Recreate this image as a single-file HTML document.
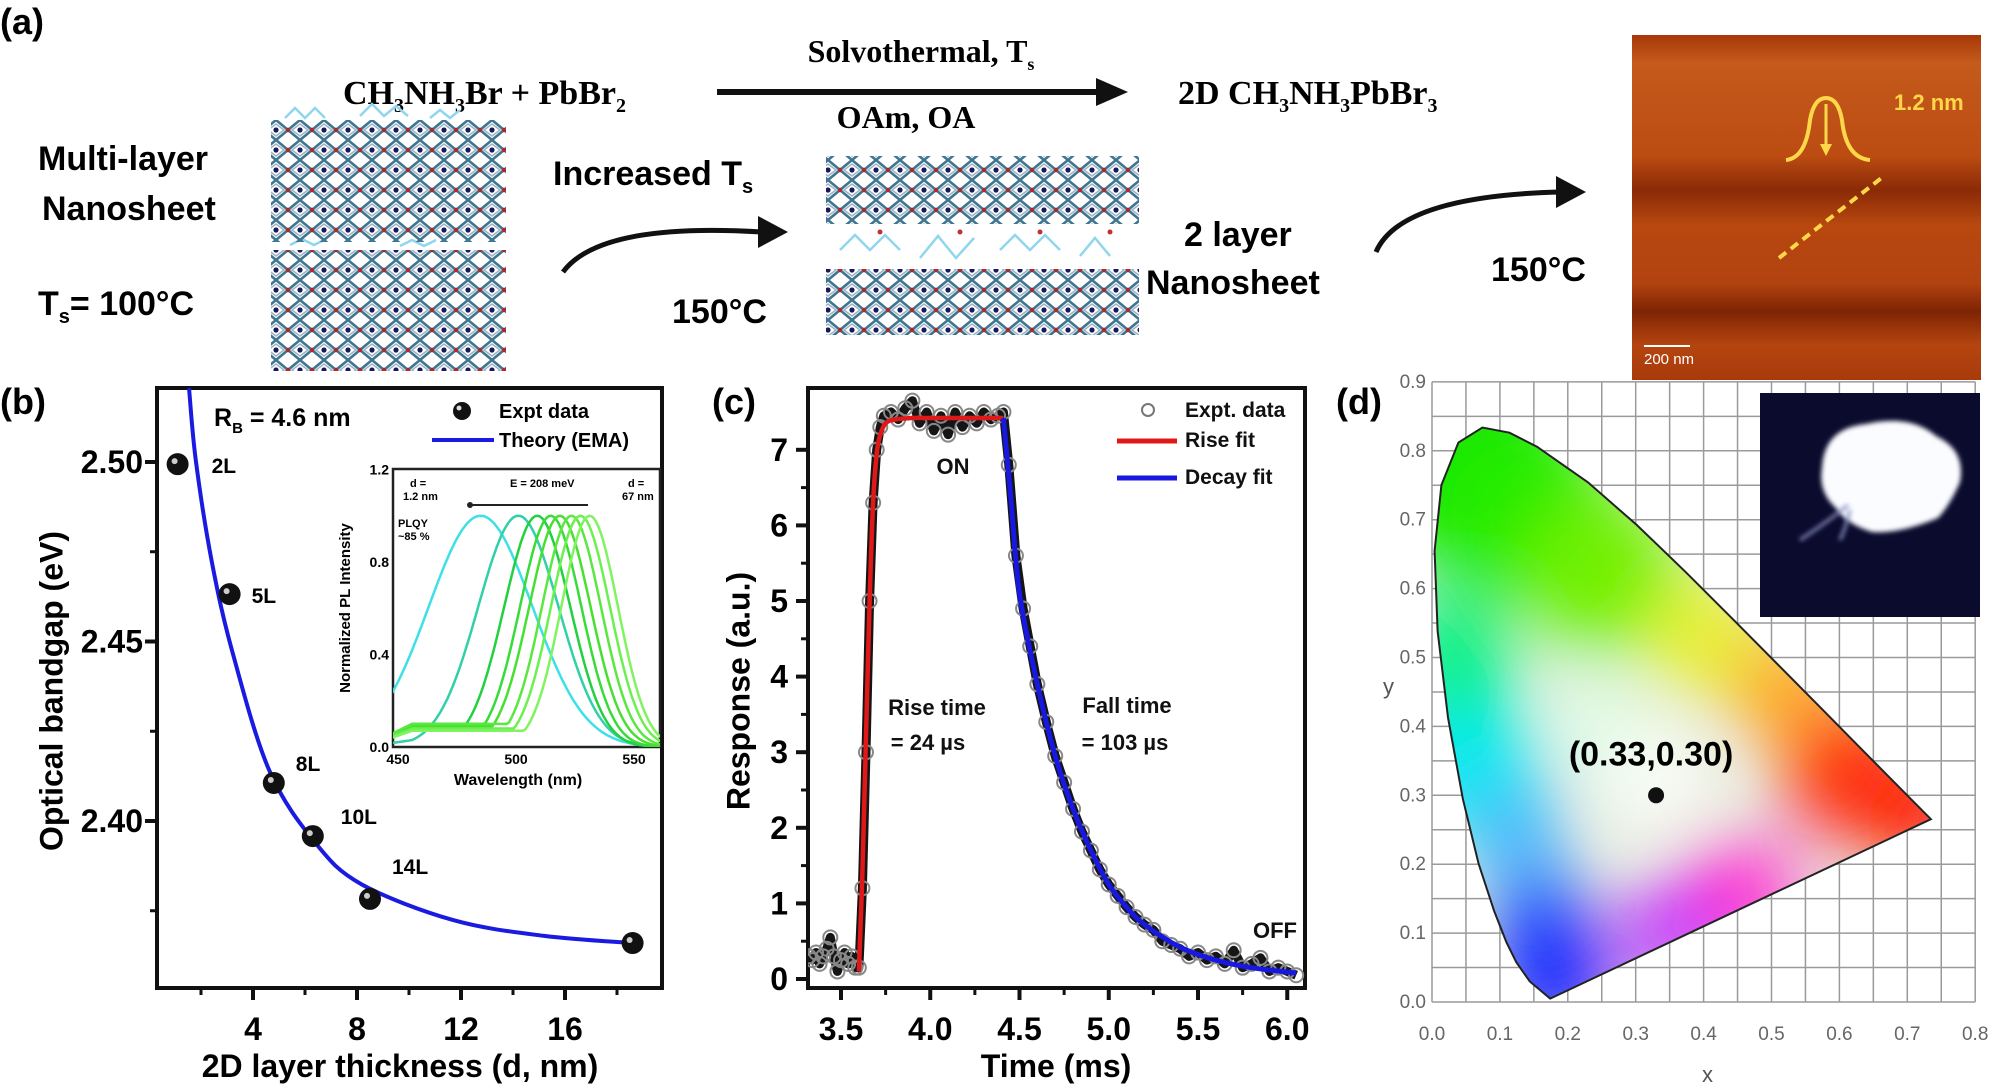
<!DOCTYPE html>
<html><head><meta charset="utf-8"><style>
html,body{margin:0;padding:0;background:#fff;}
svg{display:block;font-family:"Liberation Sans",Arial,sans-serif;}
.b{font-weight:bold;}
</style></head><body>
<svg id="fig" width="1996" height="1092" viewBox="0 0 1996 1092" xmlns="http://www.w3.org/2000/svg">
<defs>
<pattern id="lat" width="24" height="20" patternUnits="userSpaceOnUse">
<path d="M12,0 L24,10 L12,20 L0,10 Z" fill="none" stroke="#3f7590" stroke-width="2.6"/>
<path d="M12,4 L20,10 L12,16 L4,10 Z" fill="none" stroke="#9bb3c4" stroke-width="1.5"/>
<circle cx="12" cy="10" r="2.6" fill="#1a1a5a"/>
<circle cx="0" cy="10" r="2.2" fill="#b02828"/><circle cx="24" cy="10" r="2.2" fill="#b02828"/>
</pattern>
<linearGradient id="afm" x1="0" y1="0" x2="0" y2="1">
<stop offset="0" stop-color="#a83808"/><stop offset="0.08" stop-color="#c45a1c"/>
<stop offset="0.35" stop-color="#bc4c12"/><stop offset="0.45" stop-color="#8a2a06"/>
<stop offset="0.55" stop-color="#b8480f"/><stop offset="0.72" stop-color="#b24210"/>
<stop offset="0.8" stop-color="#7e2404"/><stop offset="0.9" stop-color="#b5450f"/><stop offset="1" stop-color="#a83a0c"/>
</linearGradient>
<clipPath id="clipB"><rect x="157" y="388" width="505" height="600"/></clipPath>
<clipPath id="clipI"><rect x="393" y="469" width="267" height="278"/></clipPath>
<clipPath id="clipC"><rect x="808" y="388" width="497" height="600"/></clipPath>
<clipPath id="clipCIE"><polygon id="ciePoly"/></clipPath>
<filter id="blur" x="-50%" y="-50%" width="200%" height="200%"><feGaussianBlur stdDeviation="34"/></filter>
<filter id="blur2"><feGaussianBlur stdDeviation="2.5"/></filter>
</defs>

<g>
<text x="0" y="34" class="b" font-size="36">(a)</text>
<text x="343" y="104" font-family="Liberation Serif,serif" font-weight="bold" font-size="34">CH<tspan font-size="20" dy="8">3</tspan><tspan dy="-8">NH</tspan><tspan font-size="20" dy="8">3</tspan><tspan dy="-8">Br + PbBr</tspan><tspan font-size="20" dy="8">2</tspan></text>
<text x="921" y="62" text-anchor="middle" font-family="Liberation Serif,serif" font-weight="bold" font-size="32">Solvothermal, T<tspan font-size="18" dy="8">s</tspan></text>
<line x1="717" y1="92" x2="1100" y2="92" stroke="#111" stroke-width="6"/>
<polygon points="1096,78 1128,92 1096,106" fill="#111"/>
<text x="906" y="128" text-anchor="middle" font-family="Liberation Serif,serif" font-weight="bold" font-size="32">OAm, OA</text>
<text x="1178" y="104" font-family="Liberation Serif,serif" font-weight="bold" font-size="34">2D CH<tspan font-size="20" dy="8">3</tspan><tspan dy="-8">NH</tspan><tspan font-size="20" dy="8">3</tspan><tspan dy="-8">PbBr</tspan><tspan font-size="20" dy="8">3</tspan></text>
<text x="38" y="170" class="b" font-size="34">Multi-layer</text>
<text x="42" y="220" class="b" font-size="34">Nanosheet</text>
<text x="38" y="315" class="b" font-size="34">T<tspan font-size="20" dy="8">s</tspan><tspan dy="-8">= 100°C</tspan></text>
<g>
<path d="M285,118 l10,-10 l10,10 l10,-10 l10,10 M360,116 l12,-12 l12,12 l12,-10 l12,10 M430,118 l10,-8 l10,8 l10,-8 M290,245 l12,-6 l12,6 l12,-6 M400,246 l12,-6 l12,6 l12,-6" stroke="#8fd6ee" stroke-width="2.5" fill="none"/>
<rect x="271" y="120" width="235" height="122" fill="url(#lat)"/>
<rect x="271" y="250" width="235" height="121" fill="url(#lat)"/>
</g>
<text x="553" y="185" class="b" font-size="34">Increased T<tspan font-size="20" dy="8">s</tspan></text>
<path d="M563,272 Q600,222 762,232" stroke="#111" stroke-width="5" fill="none"/>
<polygon points="758,216 788,232 758,248" fill="#111"/>
<text x="672" y="323" class="b" font-size="34">150°C</text>
<g>
<rect x="826" y="156" width="313" height="68" fill="url(#lat)"/>
<rect x="826" y="269" width="313" height="66" fill="url(#lat)"/>
<path d="M840,250 l15,-15 l15,15 l15,-15 l15,15 M920,258 l18,-22 l18,22 l18,-20 M1000,250 l15,-15 l15,15 l15,-15 l15,15 M1080,256 l15,-18 l15,18" stroke="#8fd6ee" stroke-width="2.5" fill="none"/>
<circle cx="880" cy="232" r="2.5" fill="#c03030"/><circle cx="960" cy="232" r="2.5" fill="#c03030"/><circle cx="1040" cy="232" r="2.5" fill="#c03030"/><circle cx="1110" cy="232" r="2.5" fill="#c03030"/>
</g>
<text x="1184" y="246" class="b" font-size="34">2 layer</text>
<text x="1146" y="294" class="b" font-size="34">Nanosheet</text>
<path d="M1376,252 Q1400,196 1560,192" stroke="#111" stroke-width="5" fill="none"/>
<polygon points="1556,176 1586,192 1556,208" fill="#111"/>
<text x="1491" y="281" class="b" font-size="34">150°C</text>
<g>
<rect x="1632" y="35" width="349" height="345" fill="url(#afm)"/>
<path d="M1786,160 Q1806,158 1810,120 Q1814,98 1826,98 Q1838,98 1842,120 Q1846,158 1870,160" stroke="#ffd84a" stroke-width="4" fill="none"/>
<line x1="1826" y1="104" x2="1826" y2="150" stroke="#ffd84a" stroke-width="3"/>
<polygon points="1820,144 1832,144 1826,156" fill="#ffd84a"/>
<text x="1894" y="110" class="b" font-size="22" fill="#ffd84a">1.2 nm</text>
<line x1="1779" y1="258" x2="1884" y2="176" stroke="#ffd84a" stroke-width="4" stroke-dasharray="9,6"/>
<line x1="1644" y1="346" x2="1690" y2="346" stroke="#fff" stroke-width="2"/>
<text x="1644" y="364" font-size="15" fill="#fff">200 nm</text>
</g>
</g>

<g id="pb">
<text x="0" y="414" class="b" font-size="36">(b)</text>
<text x="54" y="691" class="b" font-size="32" text-anchor="middle" transform="rotate(-90 54 691)" dominant-baseline="middle">Optical bandgap (eV)</text>
<text x="400" y="1077" class="b" font-size="32" text-anchor="middle">2D layer thickness (d, nm)</text>
<text x="214" y="426" class="b" font-size="25">R<tspan font-size="15" dy="7">B</tspan><tspan dy="-7"> = 4.6 nm</tspan></text>
<circle cx="462" cy="411" r="9" fill="#111"/>
<circle cx="459" cy="408" r="2.5" fill="#ddd"/>
<text x="499" y="418" class="b" font-size="20">Expt data</text>
<line x1="432" y1="440" x2="494" y2="440" stroke="#1a1ae0" stroke-width="4"/>
<text x="499" y="447" class="b" font-size="20">Theory (EMA)</text>
</g>

<g id="pc">
<text x="712" y="414" class="b" font-size="36">(c)</text>
<text x="741" y="691" class="b" font-size="32" text-anchor="middle" transform="rotate(-90 741 691)" dominant-baseline="middle">Response (a.u.)</text>
<text x="1056" y="1077" class="b" font-size="32" text-anchor="middle">Time (ms)</text>
</g>

<g id="pd">
<text x="1336" y="414" class="b" font-size="36">(d)</text>
<text x="1383" y="694" font-size="22" fill="#555">y</text>
<text x="1702" y="1082" font-size="22" fill="#555">x</text>
</g>
</svg>
<script>
// ---------- Panel B data ----------
const bXTicks = [4, 8, 12, 16];
const bXMinor = [2, 6, 10, 14, 18];
const bYTicks = [2.50, 2.45, 2.40];
const bYTickLabels = ["2.50", "2.45", "2.40"];
const bYMinor = [2.475, 2.425, 2.375];
const bPointD = [1.1, 3.1, 4.8, 6.3, 8.5, 18.6];
const bPointE = [2.4994, 2.4632, 2.4106, 2.3958, 2.3783, 2.366];
const bPointLabels = ["2L", "5L", "8L", "10L", "14L", ""];
const bTheoryD = [1.54, 1.81, 2.42, 3.22, 4.63, 6.40, 8.17, 11.7, 15.2, 18.6];
const bTheoryE = [2.5206, 2.4998, 2.4721, 2.4468, 2.4140, 2.3939, 2.3824, 2.3724, 2.3680, 2.366];
// inset
const inXTicks = [450, 500, 550];
const inYTicks = [0.0, 0.4, 0.8, 1.2];
const inPeaks = [485, 501, 509, 514.7, 518.6, 523.5, 527.3, 531.2];
const inWidths = [22, 17, 14, 13, 13, 12.5, 12.5, 12];
const inShoulder = [0, 0.03, 0.08, 0.1, 0.09, 0.1, 0.08, 0.07];
// ---------- Panel C data ----------
const cXTicks = [3.5, 4.0, 4.5, 5.0, 5.5, 6.0];
const cYTicks = [0, 1, 2, 3, 4, 5, 6, 7];
const cExpT = [3.32,3.34,3.36,3.38,3.40,3.42,3.44,3.46,3.48,3.50,3.52,3.54,3.56,3.58,3.60,3.62,3.64,3.66,3.68,3.70,3.72,3.74,3.78,3.82,3.86,3.90,3.94,3.98,4.02,4.06,4.10,4.14,4.18,4.22,4.26,4.30,4.34,4.38,4.41,4.44,4.48,4.52,4.56,4.60,4.65,4.70,4.75,4.80,4.85,4.90,4.95,5.00,5.05,5.10,5.15,5.20,5.25,5.30,5.35,5.40,5.45,5.50,5.55,5.60,5.65,5.70,5.75,5.80,5.85,5.90,5.95,6.00,6.05];
const cExpV = [0.3,0.25,0.35,0.2,0.3,0.4,0.55,0.3,0.1,0.25,0.35,0.2,0.3,0.15,0.15,1.2,3.0,5.0,6.3,7.0,7.3,7.45,7.5,7.4,7.55,7.65,7.35,7.5,7.25,7.45,7.2,7.5,7.3,7.45,7.35,7.5,7.4,7.45,7.5,6.8,5.6,4.9,4.4,3.9,3.4,2.95,2.6,2.25,1.95,1.7,1.45,1.25,1.1,0.95,0.82,0.72,0.65,0.5,0.45,0.4,0.3,0.35,0.25,0.3,0.2,0.38,0.15,0.2,0.28,0.1,0.15,0.1,0.05];
const cRiseT = [3.60,3.62,3.64,3.66,3.68,3.70,3.72,3.75,3.80,3.90,4.00,4.20,4.41];
const cRiseV = [0.1,1.4,3.2,5.0,6.3,6.95,7.2,7.35,7.4,7.42,7.42,7.42,7.42];
const cDecayT = [4.41,4.45,4.5,4.6,4.7,4.8,4.9,5.0,5.1,5.2,5.4,5.6,5.8,6.05];
const cDecayV = [7.42,6.4,5.1,3.9,2.95,2.25,1.7,1.25,0.95,0.72,0.42,0.25,0.15,0.08];
// ---------- Panel D data ----------
const dTicks = [0.0,0.1,0.2,0.3,0.4,0.5,0.6,0.7,0.8];
const dYTicks = [0.0,0.1,0.2,0.3,0.4,0.5,0.6,0.7,0.8,0.9];
const locusX = [0.1741,0.1440,0.1241,0.1096,0.0913,0.0687,0.0454,0.0235,0.0082,0.0039,0.0139,0.0389,0.0743,0.1142,0.1547,0.2296,0.3016,0.3731,0.4441,0.5125,0.5752,0.6270,0.6915,0.7347];
const locusY = [0.0050,0.0297,0.0578,0.0868,0.1327,0.2007,0.2950,0.4127,0.5384,0.6548,0.7502,0.8120,0.8338,0.8262,0.8059,0.7543,0.6923,0.6245,0.5547,0.4866,0.4242,0.3725,0.3083,0.2653];
const whitePoint = [0.33, 0.30];

const NS = "http://www.w3.org/2000/svg";
function mk(tag, attrs, parent) {
  const e = document.createElementNS(NS, tag);
  for (const k in attrs) e.setAttribute(k, attrs[k]);
  parent.appendChild(e);
  return e;
}
function smooth(P) {
  let d = 'M' + P[0][0].toFixed(1) + ',' + P[0][1].toFixed(1);
  for (let i = 0; i < P.length - 1; i++) {
    const p0 = P[Math.max(0, i - 1)], p1 = P[i], p2 = P[i + 1], p3 = P[Math.min(P.length - 1, i + 2)];
    const c1 = [p1[0] + (p2[0] - p0[0]) / 6, p1[1] + (p2[1] - p0[1]) / 6];
    const c2 = [p2[0] - (p3[0] - p1[0]) / 6, p2[1] - (p3[1] - p1[1]) / 6];
    d += ' C' + c1[0].toFixed(1) + ',' + c1[1].toFixed(1) + ' ' + c2[0].toFixed(1) + ',' + c2[1].toFixed(1) + ' ' + p2[0].toFixed(1) + ',' + p2[1].toFixed(1);
  }
  return d;
}
const pb = document.getElementById('pb'), pc = document.getElementById('pc'), pd = document.getElementById('pd');

// ===== Panel B =====
const bx = d => 149 + d * 26;
const by = E => 462 + (2.50 - E) * 3590;
let el;
el = mk('rect', {x:157, y:388, width:505, height:600, fill:'none', stroke:'#111', 'stroke-width':4}, pb);


bXTicks.forEach(t => {
  mk('line', {x1:bx(t), x2:bx(t), y1:988, y2:1000, stroke:'#111', 'stroke-width':4}, pb);
  el = mk('text', {x:bx(t), y:1040, 'text-anchor':'middle', 'font-size':32, 'font-weight':'bold'}, pb);
  el.textContent = t;
  
  
});
bXMinor.forEach(t => mk('line', {x1:bx(t), x2:bx(t), y1:988, y2:995, stroke:'#111', 'stroke-width':3}, pb));
bYTicks.forEach((v, i) => {
  mk('line', {x1:145, x2:157, y1:by(v), y2:by(v), stroke:'#111', 'stroke-width':4}, pb);
  el = mk('text', {x:143, y:by(v) + 11, 'text-anchor':'end', 'font-size':32, 'font-weight':'bold'}, pb);
  el.textContent = bYTickLabels[i];
  
  
});
bYMinor.forEach(v => mk('line', {x1:150, x2:157, y1:by(v), y2:by(v), stroke:'#111', 'stroke-width':3}, pb));
// inset
const ix = l => 398 + (l - 450) * 2.36;
const iy = v => 747 - v * 231.25;
el = mk('rect', {x:393, y:469, width:267, height:278, fill:'#fff', stroke:'#222', 'stroke-width':2.5}, pb);


inYTicks.forEach(v => {
  el = mk('text', {x:389, y:iy(v) + 5, 'text-anchor':'end', 'font-size':14, 'font-weight':'bold'}, pb);
  el.textContent = v.toFixed(1);
  
  
});
inXTicks.forEach(v => {
  el = mk('text', {x:ix(v), y:764, 'text-anchor':'middle', 'font-size':14, 'font-weight':'bold'}, pb);
  el.textContent = v;
  
  
});
el = mk('text', {x:518, y:785, 'text-anchor':'middle', 'font-size':16, 'font-weight':'bold'}, pb);
el.textContent = 'Wavelength (nm)';


el = mk('text', {x:350, y:608, 'text-anchor':'middle', 'font-size':15, 'font-weight':'bold', transform:'rotate(-90 350 608)'}, pb);
el.textContent = 'Normalized PL Intensity';


const inColors = ['#3ee0e8','#30d0a8','#22d040','#38dc38','#48e030','#5ae840','#6cf050','#80f460'];
const ig = mk('g', {'clip-path':'url(#clipI)'}, pb);
inPeaks.forEach((p, k) => {
  let d = '';
  for (let l = 446; l <= 562; l += 1) {
    let v = Math.exp(-0.5 * Math.pow((l - p) / inWidths[k], 2));
    if (l < p) v = Math.max(v, inShoulder[k] * Math.min(1, (l - 446) / 20 + 0.5));
    d += (l === 446 ? 'M' : 'L') + ix(l).toFixed(1) + ',' + iy(v).toFixed(1);
  }
  el = mk('path', {d:d, fill:'none', stroke:inColors[k], 'stroke-width':2.5}, ig);
  
  
});
[['d =',410,487],['1.2 nm',403,500],['E = 208 meV',510,487],['d =',628,487],['67 nm',622,500],['PLQY',398,527],['~85 %',398,540]].forEach(a => {
  el = mk('text', {x:a[1], y:a[2], 'font-size':11, 'font-weight':'bold'}, pb);
  el.textContent = a[0];
  
  
});
mk('line', {x1:470, x2:588, y1:505, y2:505, stroke:'#222', 'stroke-width':2}, pb);
mk('circle', {cx:470, cy:505, r:3, fill:'#222'}, pb);
// theory curve
const bg = mk('g', {'clip-path':'url(#clipB)'}, pb);
el = mk('path', {d:smooth(bTheoryD.map((d, i) => [bx(d), by(bTheoryE[i])])), fill:'none', stroke:'#1a1ae0', 'stroke-width':4, 'stroke-linejoin':'round'}, bg);


bPointD.forEach((d, i) => {
  el = mk('circle', {cx:bx(d), cy:by(bPointE[i]), r:11, fill:'#111'}, pb);
  
  
  mk('circle', {cx:bx(d) - 3, cy:by(bPointE[i]) - 3, r:3, fill:'#ccc'}, pb);
  if (bPointLabels[i]) {
    const off = [[34,9],[22,9],[22,-12],[28,-12],[22,-25]][i];
    el = mk('text', {x:bx(d) + off[0], y:by(bPointE[i]) + off[1], 'font-size':21, 'font-weight':'bold'}, pb);
    el.textContent = bPointLabels[i];
    
    
  }
});

// ===== Panel C =====
const cx = t => 841 + (t - 3.5) * 178.5;
const cy = v => 979 - v * 75.6;
el = mk('rect', {x:808, y:388, width:497, height:600, fill:'none', stroke:'#111', 'stroke-width':4}, pc);


cXTicks.forEach(t => {
  mk('line', {x1:cx(t), x2:cx(t), y1:988, y2:1000, stroke:'#111', 'stroke-width':4}, pc);
  if (t < 6) mk('line', {x1:cx(t + 0.25), x2:cx(t + 0.25), y1:988, y2:995, stroke:'#111', 'stroke-width':3}, pc);
  el = mk('text', {x:cx(t), y:1040, 'text-anchor':'middle', 'font-size':32, 'font-weight':'bold'}, pc);
  el.textContent = t.toFixed(1);
  
  
});
cYTicks.forEach(v => {
  mk('line', {x1:796, x2:808, y1:cy(v), y2:cy(v), stroke:'#111', 'stroke-width':4}, pc);
  if (v < 7) mk('line', {x1:801, x2:808, y1:cy(v + 0.5), y2:cy(v + 0.5), stroke:'#111', 'stroke-width':3}, pc);
  el = mk('text', {x:788, y:cy(v) + 11, 'text-anchor':'end', 'font-size':32, 'font-weight':'bold'}, pc);
  el.textContent = v;
  
  
});
const cg = mk('g', {'clip-path':'url(#clipC)'}, pc);
let ed = cExpT.map((t, i) => (i ? 'L' : 'M') + cx(t).toFixed(1) + ',' + cy(cExpV[i]).toFixed(1)).join(' ');
el = mk('path', {d:ed, fill:'none', stroke:'#151515', 'stroke-width':9, 'stroke-linejoin':'round'}, cg);


cExpT.forEach((t, i) => {
  el = mk('circle', {cx:cx(t), cy:cy(cExpV[i]), r:7, fill:'none', stroke:'#888', 'stroke-width':2}, cg);
  
  
});
el = mk('path', {d:smooth(cRiseT.map((t, i) => [cx(t), cy(cRiseV[i])])), fill:'none', stroke:'#e01818', 'stroke-width':4.5}, cg);


el = mk('path', {d:smooth(cDecayT.map((t, i) => [cx(t), cy(cDecayV[i])])), fill:'none', stroke:'#1818e0', 'stroke-width':5}, cg);


mk('circle', {cx:1148, cy:410, r:6, fill:'none', stroke:'#777', 'stroke-width':2}, pc);
[['Expt. data',1185,417],['Rise fit',1185,447],['Decay fit',1185,484],['ON',953,474],['Rise time',937,715],['= 24 µs',928,750],['Fall time',1127,713],['= 103 µs',1125,750],['OFF',1275,938]].forEach((a, i) => {
  el = mk('text', {x:a[1], y:a[2], 'font-size':i < 3 ? 21 : 22, 'font-weight':'bold', 'text-anchor':i < 3 ? 'start' : 'middle', fill:'#111'}, pc);
  el.textContent = a[0];
  
  
});
mk('line', {x1:1117, x2:1177, y1:441, y2:441, stroke:'#e01818', 'stroke-width':5}, pc);
mk('line', {x1:1117, x2:1177, y1:478, y2:478, stroke:'#1818e0', 'stroke-width':5}, pc);

// ===== Panel D =====
const dx = x => 1432 + x * 679;
const dy = y => 1002 - y * 689;
for (let k = 0; k <= 16; k++) {
  const v = k * 0.05;
  el = mk('line', {x1:dx(v), x2:dx(v), y1:dy(0.9), y2:dy(0), stroke:'#9a9a9a', 'stroke-width':1.5}, pd);
  
  
}
for (let k = 0; k <= 18; k++) {
  const v = k * 0.05;
  el = mk('line', {x1:dx(0), x2:dx(0.8), y1:dy(v), y2:dy(v), stroke:'#9a9a9a', 'stroke-width':1.5}, pd);
  
  
}
dTicks.forEach(v => {
  el = mk('text', {x:dx(v), y:1040, 'text-anchor':'middle', 'font-size':19, fill:'#666'}, pd);
  el.textContent = v.toFixed(1);
  
  
});
dYTicks.forEach(v => {
  el = mk('text', {x:dx(0) - 6, y:dy(v) + 6, 'text-anchor':'end', 'font-size':19, fill:'#666'}, pd);
  el.textContent = v.toFixed(1);
  
  
});
const pts = locusX.map((x, i) => dx(x).toFixed(1) + ',' + dy(locusY[i]).toFixed(1)).join(' ');
document.getElementById('ciePoly').setAttribute('points', pts);
const cie = mk('g', {'clip-path':'url(#clipCIE)'}, pd);


mk('rect', {x:1400, y:350, width:600, height:700, fill:'#e8f0e0'}, cie);
const blob = mk('g', {filter:'url(#blur)'}, cie);
[[0.05,0.78,110,'#00e000'],[0.12,0.72,100,'#20ec00'],[0.25,0.62,80,'#70f000'],[0.40,0.53,60,'#e8f030'],[0.52,0.45,55,'#ffa820'],
 [0.62,0.33,70,'#ff3010'],[0.72,0.27,50,'#ff1000'],[0.45,0.15,60,'#ff30d0'],[0.35,0.10,50,'#c030ff'],[0.18,0.04,60,'#1010ff'],[0.16,0.12,50,'#2040ff'],
 [0.05,0.35,75,'#00eaf0'],[0.03,0.50,60,'#00f080'],[0.12,0.25,50,'#40b8ff'],[0.33,0.32,45,'#ffffff'],[0.25,0.40,40,'#e0ffe8']].forEach(c => {
  mk('circle', {cx:dx(c[0]), cy:dy(c[1]), r:c[2], fill:c[3]}, blob);
});
el = mk('polygon', {points:pts, fill:'none', stroke:'#222', 'stroke-width':2}, pd);


el = mk('circle', {cx:dx(whitePoint[0]), cy:dy(whitePoint[1]), r:8, fill:'#111'}, pd);


el = mk('text', {x:dx(whitePoint[0]) - 5, y:dy(whitePoint[1]) - 30, 'text-anchor':'middle', 'font-size':34, 'font-weight':'bold'}, pd);
el.textContent = '(' + whitePoint[0].toFixed(2) + ',' + whitePoint[1].toFixed(2) + ')';


el = mk('rect', {x:1760, y:393, width:220, height:224, fill:'#0b0b2e'}, pd);


mk('path', {d:'M1822,468 Q1824,428 1866,424 Q1910,414 1936,436 Q1966,450 1960,482 Q1950,505 1938,518 Q1900,534 1872,532 Q1846,524 1836,508 Q1818,492 1822,468 Z', fill:'#fafcff', filter:'url(#blur2)'}, pd);
mk('path', {d:'M1848,505 Q1830,520 1800,540 M1850,510 Q1845,530 1840,540', stroke:'#8890c0', 'stroke-width':3, fill:'none', filter:'url(#blur2)'}, pd);
</script>
</body></html>
